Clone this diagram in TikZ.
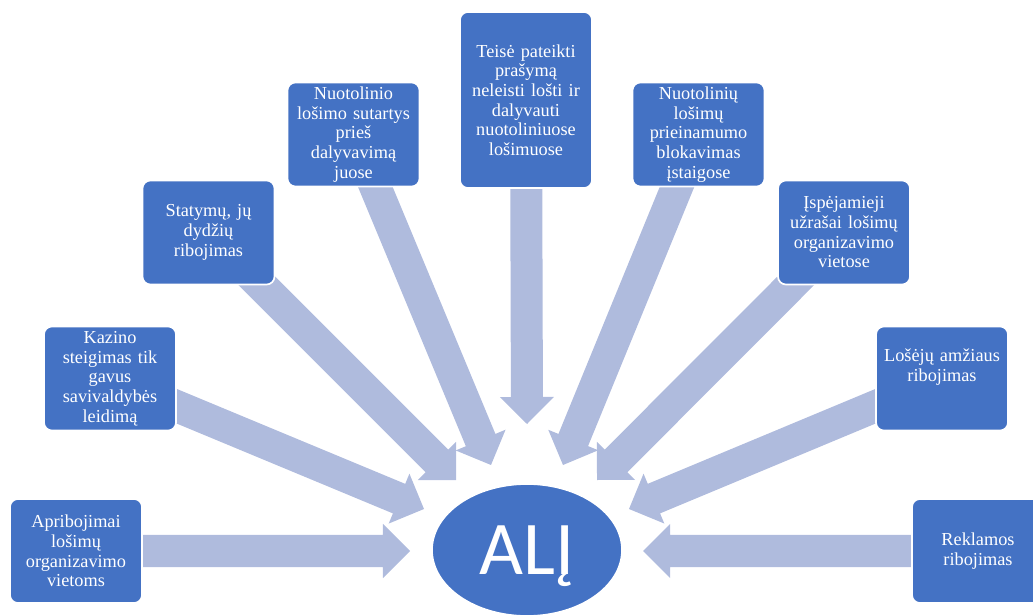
\documentclass[tikz,border=0pt]{standalone}
\usepackage{fontspec}
\setmainfont{Liberation Serif}
\newfontfamily\calibri{Carlito}
\usepackage{tikz}
\usetikzlibrary{shapes.geometric, calc, positioning, backgrounds}

\definecolor{xanhhop}{RGB}{68,114,196}
\definecolor{xanhmui}{RGB}{175,187,221}

\tikzset{
  hop/.style={rectangle, rounded corners=0.2cm, fill=xanhhop, draw=white, line width=1.2pt,
    text=white, align=center, text width=3.2cm, minimum width=3.3cm, minimum height=2.6cm,
    inner sep=0pt, font=\fontsize{13}{14}\selectfont},
  tam/.style={ellipse, fill=xanhhop, draw=white, line width=1.2pt, text=white,
    minimum width=4.75cm, minimum height=3.3cm, inner sep=0pt, text depth=0pt,
    font=\calibri\fontsize{54}{60}\selectfont},
  mui/.style={fill=xanhmui}
}

% Mũi tên khối từ nút #1 tới điểm #2
\newcommand{\muiten}[2]{%
  \path ($(#2)!0.675cm!(#1)$) coordinate (goc);
  \fill[mui] ($(#1)!0.4cm!90:(#2)$) -- ($(goc)!0.4cm!90:(#2)$)
    -- ($(goc)!0.675cm!90:(#2)$) -- (#2)
    -- ($(goc)!0.675cm!-90:(#2)$) -- ($(goc)!0.4cm!-90:(#2)$)
    -- ($(#1)!0.4cm!-90:(#2)$) -- cycle;}

\begin{document}
\begin{tikzpicture}[x=0.025cm, y=-0.025cm]

            \useasboundingbox (0,0) rectangle (1033,616);
            \clip (0,0) rectangle (1033,616);

            % Các hộp
            \node[hop] (apribojimai) at (76,551) {Apribojimai\\ lošimų\\ organizavimo\\ vietoms};
            \node[hop] (kazino) at (110,378.5) {Kazino\\ steigimas tik\\ gavus\\ savivaldybės\\ leidimą};
            \node[hop] (statymai) at (208.5,232.5) {Statymų, jų\\ dydžių\\ ribojimas};
            \node[hop] (sutartys) at (353.5,134.5) {Nuotolinio\\ lošimo sutartys\\ prieš\\ dalyvavimą\\ juose};
            \node[hop, minimum height=4.4cm] (teise) at (526,100) {Teisė pateikti\\ prašymą\\ neleisti lošti ir\\ dalyvauti\\ nuotoliniuose\\ lošimuose};
            \node[hop] (blokavimas) at (698.5,134.5) {Nuotolinių\\ lošimų\\ prieinamumo\\ blokavimas\\ įstaigose};
            \node[hop] (uzrasai) at (844,232.5) {Įspėjamieji\\ užrašai lošimų\\ organizavimo\\ vietose};
            \node[hop, text depth=1.15cm] (amzius) at (942,378.5) {Lošėjų amžiaus\\ ribojimas};
            \node[hop] (reklama) at (978,551) {Reklamos\\ ribojimas};

            % Đầu các mũi tên
            \coordinate (t-apribojimai) at (410,551);
            \coordinate (t-kazino) at (424,509);
            \coordinate (t-statymai) at (456,480);
            \coordinate (t-sutartys) at (491,465);
            \coordinate (t-teise) at (527,424);
            \coordinate (t-blokavimas) at (563,465);
            \coordinate (t-uzrasai) at (597,480);
            \coordinate (t-amzius) at (629,509);
            \coordinate (t-reklama) at (643,551);

            % Vẽ các mũi tên (dưới các hộp)
            \begin{scope}[on background layer]
            \muiten{apribojimai}{t-apribojimai}
            \muiten{kazino}{t-kazino}
            \muiten{statymai}{t-statymai}
            \muiten{sutartys}{t-sutartys}
            \muiten{teise}{t-teise}
            \muiten{blokavimas}{t-blokavimas}
            \muiten{uzrasai}{t-uzrasai}
            \muiten{amzius}{t-amzius}
            \muiten{reklama}{t-reklama}
            \end{scope}

            % Hình elip ở giữa
            \node[tam] (alj) at (527,550) {ALĮ};

\end{tikzpicture}
\end{document}
